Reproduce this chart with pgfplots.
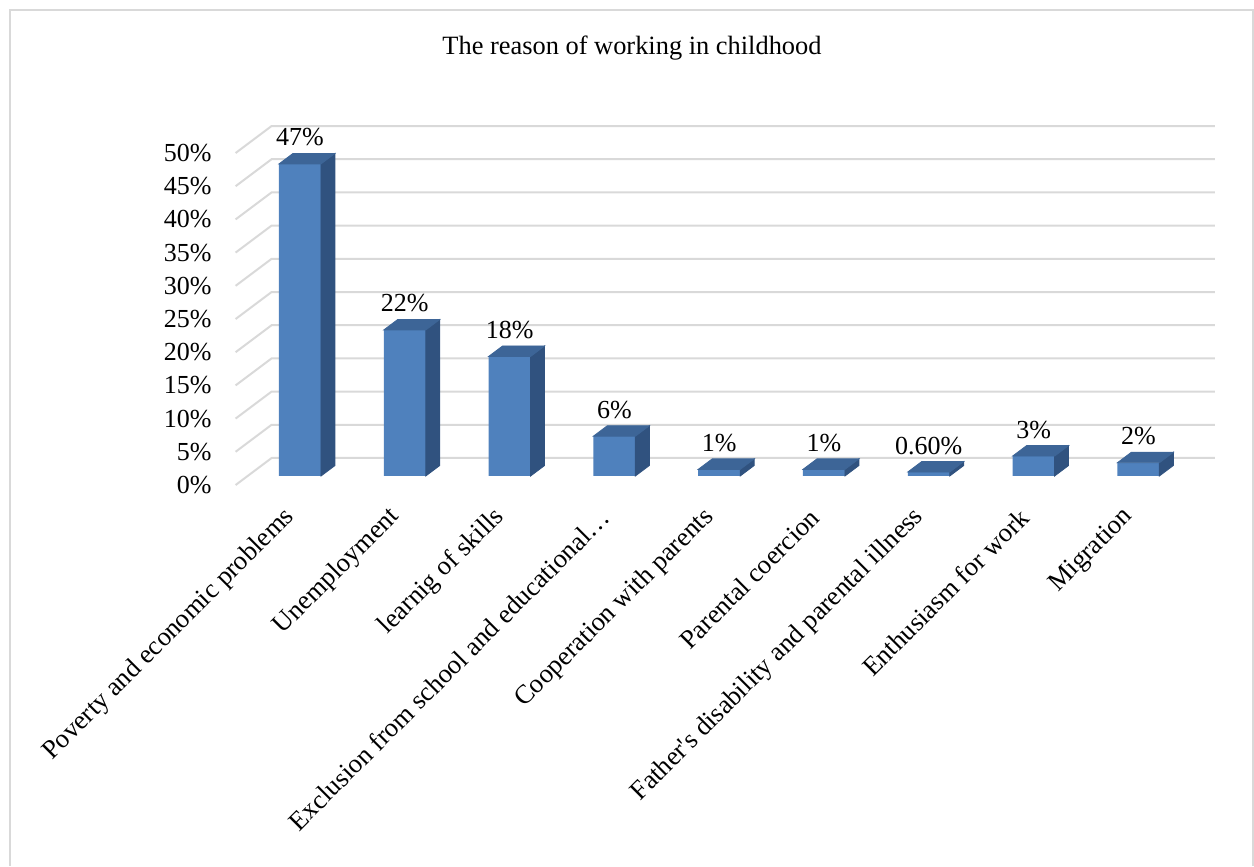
\documentclass[border=0pt]{standalone}
\usepackage{pgfplots}
\usepackage{pgfplotstable}
\pgfplotsset{compat=1.18}
\usepackage{fontspec}
\setmainfont{Liberation Serif}[Ligatures=TeXOff]
\definecolor{frontc}{HTML}{4F81BD}
\definecolor{topc}{HTML}{3D6597}
\definecolor{sidec}{HTML}{30527F}
\definecolor{gridc}{HTML}{D9D9D9}
\pgfdeclareplotmark{emptymark}{}
\pgfplotstableread{
x y lab
0 47 47
1 22 22
2 18 18
3 6 6
4 1 1
5 1 1
6 0.6 0.60
7 3 3
8 2 2
}\datatable
\begin{document}
\begin{tikzpicture}
\path (0pt,0pt) rectangle (627pt,431pt);
\draw[gridc, line width=1pt] (5pt,-2pt) -- (5pt,426pt) -- (626.5pt,426pt) -- (626.5pt,-2pt);
\node[anchor=base, font=\fontsize{13.2}{15}\selectfont] at (316pt,403.5pt) {The reason of working in childhood};
\begin{axis}[
  at={(123.8pt,193pt)}, anchor=south west,
  scale only axis, width=471.6pt, height=166pt,
  xmin=-0.5, xmax=8.5, ymin=0, ymax=50,
  clip=false,
  axis line style={draw=none}, tick style={draw=none},
  ytick={0,5,10,15,20,25,30,35,40,45,50},
  yticklabels={0\%,5\%,10\%,15\%,20\%,25\%,30\%,35\%,40\%,45\%,50\%},
  yticklabel style={anchor=east, inner sep=0pt, xshift=-17.8pt, yshift=-4.5pt, font=\fontsize{13}{15}\selectfont},
  xtick={0,1,2,3,4,5,6,7,8},
  xticklabels={Poverty and economic problems, Unemployment, learnig of skills, Exclusion from school and educational…, Cooperation with parents, Parental coercion, Father's disability and parental illness, Enthusiasm for work, Migration},
  xticklabel style={anchor=east, inner sep=0pt, xshift=-4.5pt, yshift=-18.5pt, rotate=45, font=\fontsize{13.3}{15}\selectfont},
]
\pgfplotsinvokeforeach{0,5,10,15,20,25,30,35,40,45,50}{
  \draw[gridc, line width=1pt] ([xshift=-6pt,yshift=-4.5pt]axis cs:-0.5,#1) -- ([xshift=12pt,yshift=9pt]axis cs:-0.5,#1) -- ([xshift=12pt,yshift=9pt]axis cs:8.5,#1);
}
\addplot[ybar, bar width=21pt, bar shift=0pt, fill=frontc, draw=none,
  nodes near coords={\pgfplotspointmeta\%}, point meta=explicit symbolic,
  every node near coord/.append style={anchor=base, yshift=9pt, black, font=\fontsize{13}{15}\selectfont}]
  table[x=x, y=y, meta=lab] {\datatable};
\addplot[scatter, only marks, mark=emptymark,
  visualization depends on={y \as \rawy},
  scatter/@pre marker code/.code={%
    \pgfmathsetmacro\H{\rawy*3.32}%
    \pgfmathsetmacro\Hb{5.25-\H}%
    \fill[sidec] (10.5pt,0pt) -- (17.5pt,5.25pt) -- (17.5pt,\Hb pt) -- (10.5pt,-\H pt) -- cycle;
    \fill[topc] (-10.5pt,0pt) -- (10.5pt,0pt) -- (17.5pt,5.25pt) -- (-3.5pt,5.25pt) -- cycle;
  },
  scatter/@post marker code/.code={}]
  table[x=x, y=y] {\datatable};
\end{axis}
\end{tikzpicture}
\end{document}
